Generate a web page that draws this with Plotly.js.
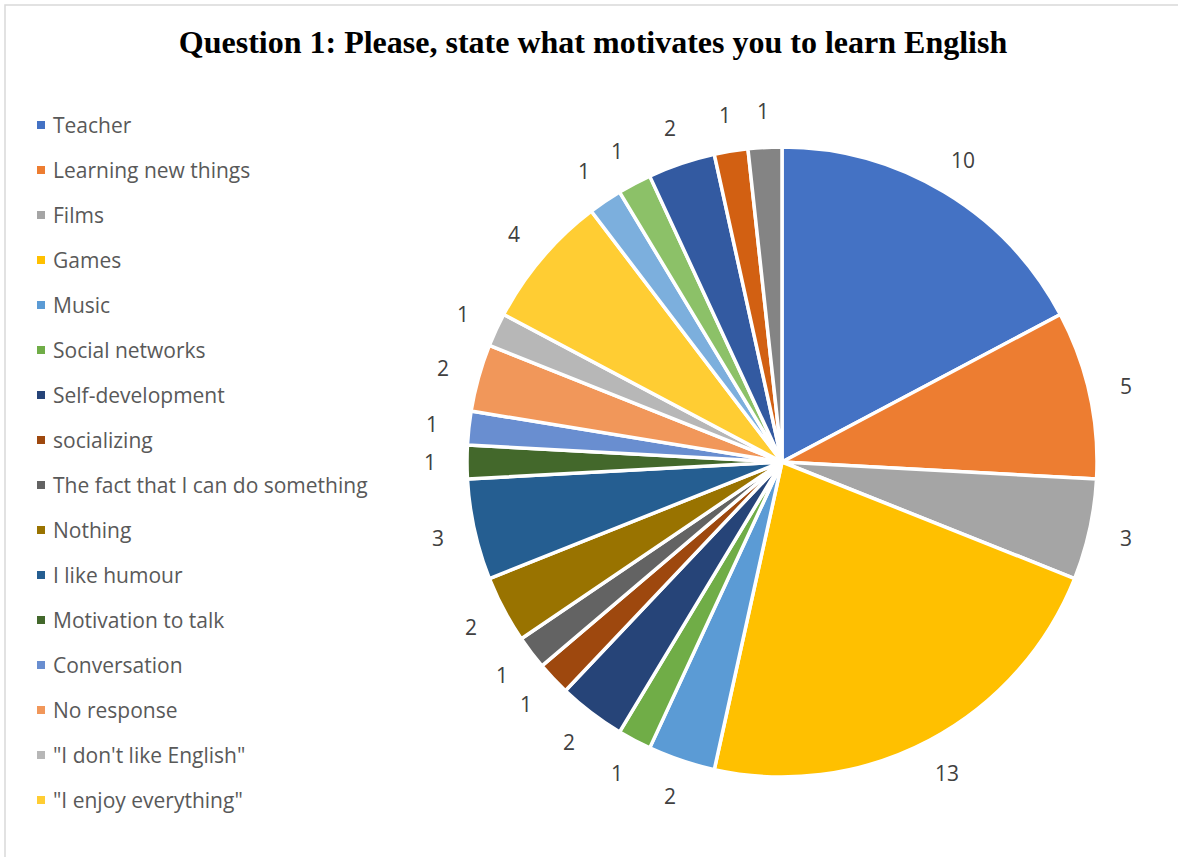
<!DOCTYPE html>
<html>
<head>
<meta charset="utf-8">
<script src="https://cdn.plot.ly/plotly-3.0.1.min.js"></script>
<style>html,body{margin:0;padding:0;background:#fff;}#chart{width:1178px;height:857px;}</style>
</head>
<body>
<div id="chart"></div>
<script>
// Slice categories (clockwise from 12 o'clock); only the first 16 are named in the legend
const categories = [
  "Teacher", "Learning new things", "Films", "Games", "Music", "Social networks",
  "Self-development", "socializing", "The fact that I can do something", "Nothing",
  "I like humour", "Motivation to talk", "Conversation", "No response",
  "\"I don't like English\"", "\"I enjoy everything\"",
  "Unlisted 17", "Unlisted 18", "Unlisted 19", "Unlisted 20", "Unlisted 21"
];
const values = [10, 5, 3, 13, 2, 1, 2, 1, 1, 2, 3, 1, 1, 2, 1, 4, 1, 1, 2, 1, 1];
const sliceColors = [
  "#4472C4", "#ED7D31", "#A5A5A5", "#FFC000", "#5B9BD5", "#70AD47",
  "#264478", "#9E480E", "#636363", "#997300", "#255E91", "#43682B",
  "#698ED0", "#F1975A", "#B7B7B7", "#FFCD33", "#7CAFDD", "#8CC168",
  "#335AA1", "#D26012", "#848484"
];
const legendCount = 16;
const titleText = "Question 1: Please, state what motivates you to learn English";

const W = 1178, H = 857;
const CX = 782, CY = 462, R = 315;
const px = x => x / W;
const py = y => 1 - y / H;

const trace = {
  type: "pie",
  labels: categories,
  values: values,
  sort: false,
  direction: "clockwise",
  rotation: 0,
  textinfo: "none",
  hoverinfo: "label+value",
  showlegend: false,
  marker: { colors: sliceColors, line: { color: "#ffffff", width: 3.5 } },
  domain: { x: [px(CX - R), px(CX + R)], y: [py(CY + R), py(CY - R)] }
};

const annotations = [];
const shapes = [];

// data labels, positioned from cumulative values
const total = values.reduce((a, b) => a + b, 0);
let cum = 0;
values.forEach((v, i) => {
  const th = 2 * Math.PI * (cum + v / 2) / total;
  cum += v;
  const d = R + 37;
  annotations.push({
    x: px(CX + d * Math.sin(th)), y: py(CY - d * Math.cos(th)),
    xref: "paper", yref: "paper", showarrow: false,
    xanchor: "center", yanchor: "middle",
    text: String(v),
    font: { family: "Open Sans", size: 21, color: "#404040" }
  });
});

// manual legend (first 16 entries)
for (let i = 0; i < legendCount; i++) {
  const yc = 125 + i * 45;
  shapes.push({
    type: "rect", xref: "paper", yref: "paper",
    x0: px(37), x1: px(45), y0: py(yc + 4), y1: py(yc - 4),
    fillcolor: sliceColors[i], line: { width: 0 }
  });
  annotations.push({
    x: px(51), y: py(yc), xref: "paper", yref: "paper", showarrow: false,
    xanchor: "left", yanchor: "middle", text: categories[i],
    font: { family: "Open Sans", size: 21, color: "#595959" }
  });
}

// chart frame
shapes.push({
  type: "rect", xref: "paper", yref: "paper",
  x0: px(5), x1: px(W + 20), y0: py(H + 20), y1: py(5),
  line: { color: "#D9D9D9", width: 1.5 }, fillcolor: "rgba(0,0,0,0)"
});

const layout = {
  width: W, height: H,
  margin: { l: 0, r: 0, t: 0, b: 0 },
  paper_bgcolor: "#ffffff",
  title: {
    text: "<b>" + titleText + "</b>",
    x: px(593), xanchor: "center", xref: "paper",
    y: py(42), yanchor: "middle", yref: "paper",
    font: { family: "Liberation Serif", size: 32, color: "#000000" }
  },
  annotations: annotations,
  shapes: shapes
};

Plotly.newPlot("chart", [trace], layout, { displayModeBar: false, staticPlot: true });
</script>
</body>
</html>
